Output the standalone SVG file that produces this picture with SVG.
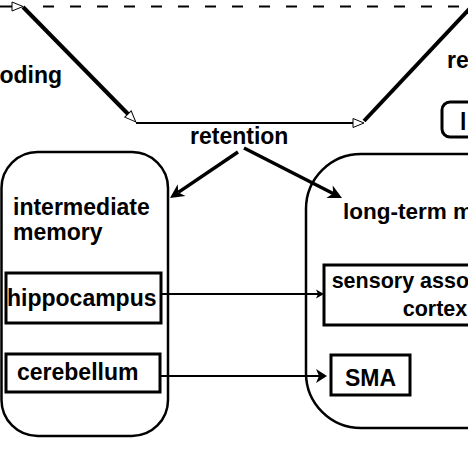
<svg xmlns="http://www.w3.org/2000/svg" width="468" height="468" viewBox="0 0 468 468">
<defs>
<style>
text{font-family:"Liberation Sans",Arial,Helvetica,sans-serif;font-weight:bold;fill:#000}
.big{font-size:23px}
.mid{font-size:21.5px}
.box{fill:#fff;stroke:#000;stroke-width:3}
.cont{fill:none;stroke:#000;stroke-width:2.5}
.thick{stroke:#000;stroke-width:4;fill:none}
.thin{stroke:#000;stroke-width:2;fill:none}
.heavy{stroke:#000;stroke-width:3.5;fill:none}
</style>
<marker id="open" markerUnits="userSpaceOnUse" orient="auto" refX="0" refY="0" markerWidth="14" markerHeight="12" viewBox="-1 -6 14 12" overflow="visible">
<path d="M0,-4.5 L11,0 L0,4.5 Z" fill="#fff" stroke="#000" stroke-width="1"/>
</marker>
<marker id="barb" markerUnits="userSpaceOnUse" orient="auto" refX="4" refY="0" markerWidth="16" markerHeight="16" viewBox="0 -8 16 16" overflow="visible">
<path d="M0,-7 L14,0 L0,7 L4,0 Z" fill="#000"/>
</marker>
<marker id="barbs" markerUnits="userSpaceOnUse" orient="auto" refX="3" refY="0" markerWidth="12" markerHeight="16" viewBox="0 -8 12 16" overflow="visible">
<path d="M0,-7 L11,0 L0,7 L3,0 Z" fill="#000"/>
</marker>
<marker id="small" markerUnits="userSpaceOnUse" orient="auto" refX="2" refY="0" markerWidth="10" markerHeight="10" viewBox="0 -5 10 10" overflow="visible">
<path d="M0,-4.5 L8,0 L0,4.5 L2,0 Z" fill="#000"/>
</marker>
</defs>
<rect width="468" height="468" fill="#fff"/>

<g id="connectors">
<line class="thin" x1="0" y1="6.5" x2="12" y2="6.5" marker-end="url(#open)"/>
<line class="thin" x1="43" y1="6.5" x2="470" y2="6.5" stroke-dasharray="11 16" stroke-width="1.8"/>
<line class="thick" x1="23" y1="7" x2="128" y2="114" marker-end="url(#open)"/>
<line class="thin" x1="136" y1="123" x2="353" y2="123" marker-end="url(#open)"/>
<line class="thick" x1="364" y1="121" x2="473" y2="5"/>
<line class="heavy" x1="238" y1="152" x2="178.3" y2="192.4" marker-end="url(#barb)"/>
<line class="heavy" x1="244" y1="148" x2="333.1" y2="193.5" marker-end="url(#barb)"/>
<line class="thin" x1="162" y1="294" x2="318" y2="294" marker-end="url(#small)"/>
<line class="thin" x1="160" y1="376" x2="319" y2="376" marker-end="url(#barbs)"/>
</g>

<g id="encoding"><text class="big" x="62" y="83" text-anchor="end">encoding</text></g>
<g id="retention"><text class="big" x="190" y="144">retention</text></g>
<g id="retrieval"><text class="big" x="447" y="68">retrieval</text></g>
<g id="topright-box">
<rect class="box" x="442" y="102" width="60" height="35" rx="8"/>
<text class="big" x="460" y="130">l</text>
</g>

<g id="intermediate-memory">
<rect class="cont" x="1.5" y="152" width="166.5" height="284" rx="36"/>
<text class="big" x="13" y="215">intermediate</text>
<text class="big" x="13" y="240">memory</text>
</g>
<g id="hippocampus">
<rect class="box" x="6" y="273" width="155" height="50"/>
<text class="big" x="7" y="306">hippocampus</text>
</g>
<g id="cerebellum">
<rect class="box" x="6" y="354" width="154" height="38"/>
<text class="big" x="17" y="380">cerebellum</text>
</g>

<g id="long-term-memory">
<rect class="cont" x="306" y="154" width="320" height="274" rx="55"/>
<text class="big" x="343" y="219" style="font-size:22.5px">long-term memory</text>
</g>
<g id="sensory-association-cortex">
<rect class="box" x="324" y="265" width="222" height="60"/>
<text class="mid" x="435" y="288" text-anchor="middle">sensory association</text>
<text class="mid" x="435" y="316" text-anchor="middle">cortex</text>
</g>
<g id="sma">
<rect class="box" x="331" y="355" width="79" height="40"/>
<text class="big" x="345" y="386">SMA</text>
</g>
</svg>
